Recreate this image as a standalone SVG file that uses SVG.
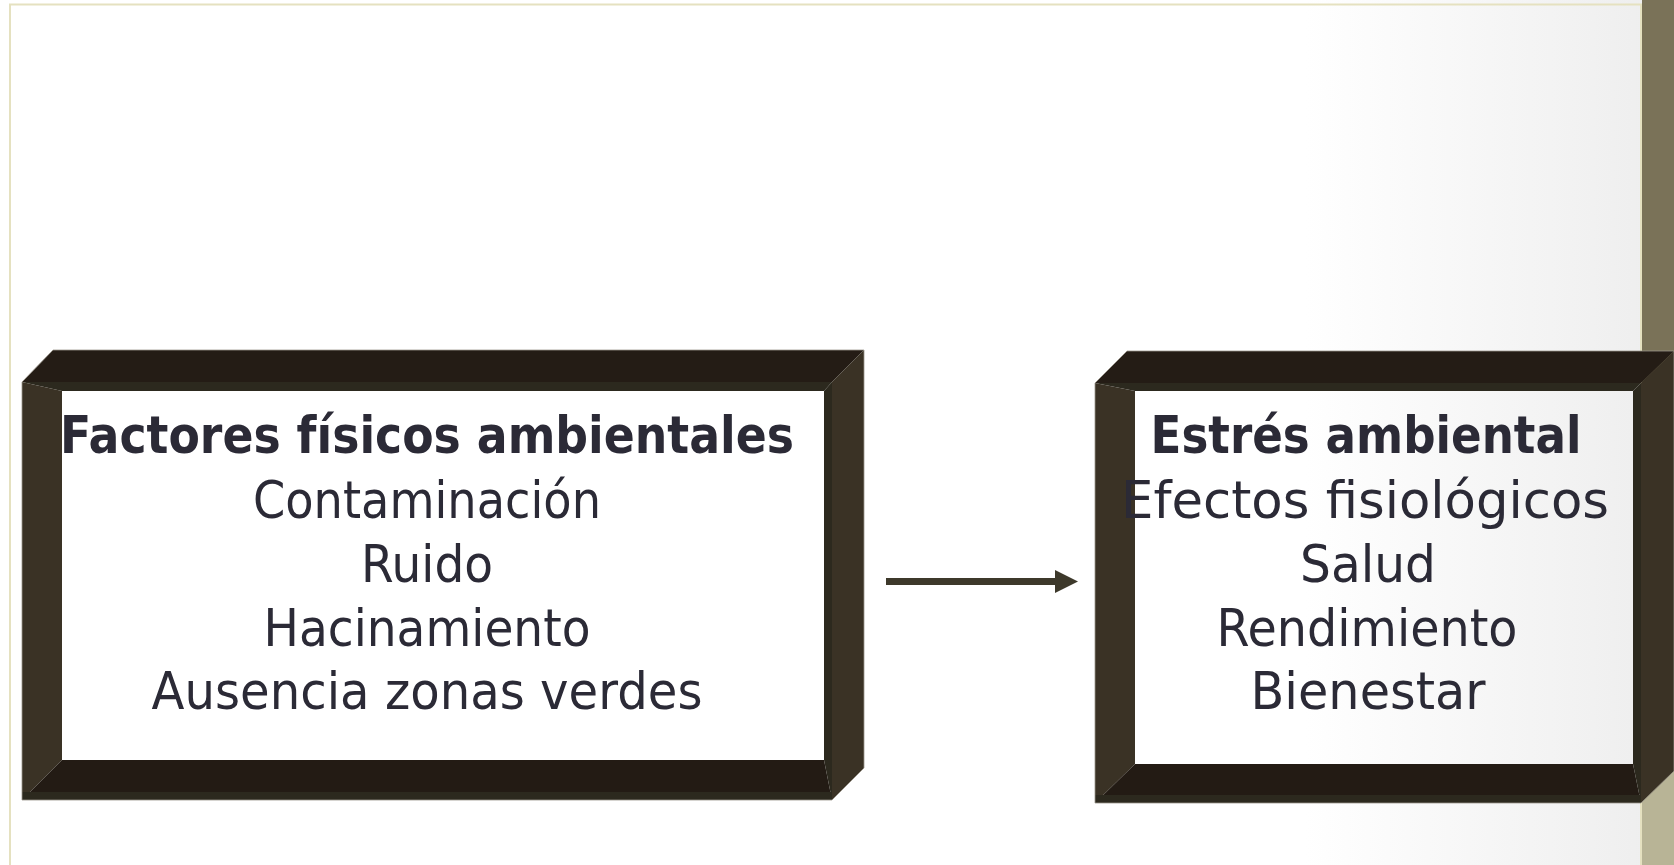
<svg xmlns="http://www.w3.org/2000/svg" width="1674" height="865" viewBox="0 0 1674 865">
<style>
.t{font-family:"DejaVu Sans","Noto Sans",sans-serif;font-size:52px;fill:#2b2a36;text-anchor:middle}
.b{font-weight:bold}
.top{fill:#241c15}
.side{fill:#3a3225}
.bot{fill:#231b14}
.thin{fill:#2c291e}
.edge{fill:none;stroke:#9a968a;stroke-width:0.8}
</style>
<defs>
<linearGradient id="bg" x1="0" y1="0" x2="1" y2="0">
<stop offset="0" stop-color="#ffffff"/>
<stop offset="0.78" stop-color="#ffffff"/>
<stop offset="1" stop-color="#ededed"/>
</linearGradient>
<linearGradient id="strip" x1="0" y1="0" x2="0" y2="1">
<stop offset="0" stop-color="#7a7258"/>
<stop offset="0.64" stop-color="#7a7258"/>
<stop offset="0.66" stop-color="#b8b496"/>
<stop offset="1" stop-color="#b8b496"/>
</linearGradient>
</defs>
<rect x="0" y="0" width="1674" height="865" fill="url(#bg)"/>
<rect x="1642" y="0" width="32" height="865" fill="url(#strip)"/>
<path d="M10 865 V4.5 H1641 V865" fill="none" stroke="#e5e1c0" stroke-width="2"/>

<g id="node-factores">
<polygon class="top" points="53,350 864,350 832,382 22,382"/>
<polygon class="side" points="832,382 864,350 864,768 832,800"/>
<polygon class="thin" points="22,382 832,382 824,391 62,391"/>
<polygon class="side" points="22,382 62,391 62,760 22,800"/>
<polygon class="bot" points="22,800 62,760 824,760 832,800"/>
<polygon class="thin" points="824,391 832,382 832,800 824,760"/>
<rect class="thin" x="22" y="792" width="810" height="8"/>
<polygon class="edge" points="53,350 864,350 864,768 832,800 22,800 22,382"/>
<text class="t b" x="427" y="453" textLength="734" lengthAdjust="spacingAndGlyphs">Factores físicos ambientales</text>
<text class="t" x="427" y="518" textLength="348" lengthAdjust="spacingAndGlyphs">Contaminación</text>
<text class="t" x="427" y="582" textLength="132" lengthAdjust="spacingAndGlyphs">Ruido</text>
<text class="t" x="427" y="646" textLength="327" lengthAdjust="spacingAndGlyphs">Hacinamiento</text>
<text class="t" x="427" y="709" textLength="551" lengthAdjust="spacingAndGlyphs">Ausencia zonas verdes</text>
</g>

<g id="node-estres">
<polygon class="top" points="1127,351 1674,351 1641,383 1095,383"/>
<polygon class="side" points="1641,383 1674,351 1674,771 1641,803"/>
<polygon class="thin" points="1095,383 1641,383 1633,391 1135,391"/>
<polygon class="side" points="1095,383 1135,391 1135,764 1095,803"/>
<polygon class="bot" points="1095,803 1135,764 1633,764 1641,803"/>
<polygon class="thin" points="1633,391 1641,383 1641,803 1633,764"/>
<rect class="thin" x="1095" y="795" width="546" height="8"/>
<polygon class="edge" points="1127,351 1674,351 1674,771 1641,803 1095,803 1095,383"/>
<text class="t b" x="1366" y="453" textLength="431" lengthAdjust="spacingAndGlyphs">Estrés ambiental</text>
<text class="t" x="1365" y="518" textLength="488" lengthAdjust="spacingAndGlyphs">Efectos fisiológicos</text>
<text class="t" x="1368" y="582" textLength="136" lengthAdjust="spacingAndGlyphs">Salud</text>
<text class="t" x="1367" y="646" textLength="301" lengthAdjust="spacingAndGlyphs">Rendimiento</text>
<text class="t" x="1368" y="709" textLength="235" lengthAdjust="spacingAndGlyphs">Bienestar</text>
</g>

<g id="connectors">
<rect x="886" y="578" width="170" height="7" fill="#3d392b"/>
<polygon points="1055,570 1078,581.5 1055,593" fill="#3d392b"/>
</g>
</svg>
